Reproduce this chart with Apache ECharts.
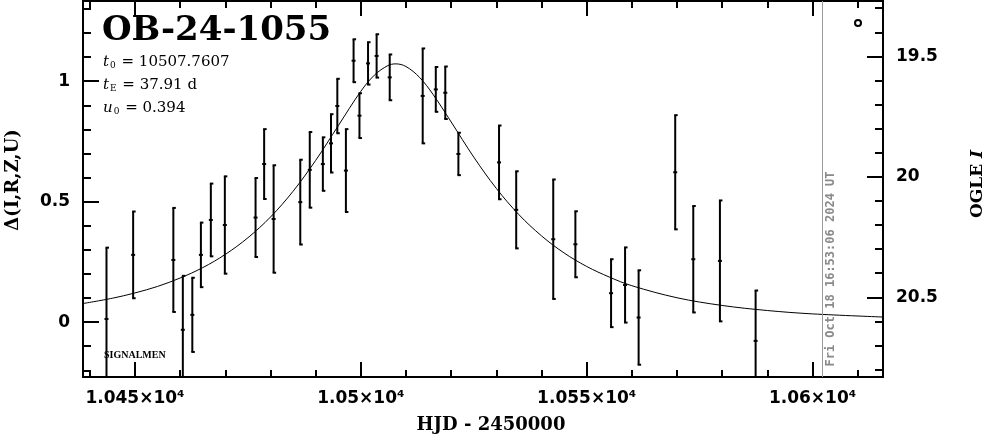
<!DOCTYPE html>
<html><head><meta charset="utf-8">
<script src="https://cdn.jsdelivr.net/npm/echarts@6/dist/echarts.min.js"></script>
<style>html,body{margin:0;padding:0;background:#fff}#c{width:986px;height:434px}</style>
</head><body><div id="c"></div>
<script>
// ---- data ----
const hjd = [10443.7, 10449.6, 10458.5, 10460.6, 10462.7, 10464.6, 10466.8, 10469.9, 10476.7, 10478.6, 10480.7, 10486.6, 10488.7, 10491.6, 10493.4, 10494.8, 10496.7, 10498.4, 10499.7, 10501.6, 10503.5, 10506.4, 10513.7, 10516.6, 10518.7, 10521.6, 10530.6, 10534.4, 10542.6, 10547.5, 10555.4, 10558.5, 10561.5, 10569.6, 10573.6, 10579.5, 10587.4];
const delta = [0.013, 0.279, 0.258, -0.032, 0.030, 0.279, 0.424, 0.403, 0.434, 0.656, 0.428, 0.498, 0.632, 0.656, 0.742, 0.897, 0.629, 1.085, 0.857, 1.074, 1.105, 1.016, 0.939, 0.966, 0.952, 0.698, 0.663, 0.466, 0.344, 0.323, 0.120, 0.154, 0.019, 0.622, 0.261, 0.254, -0.078];
const errs = [0.296, 0.180, 0.216, 0.224, 0.154, 0.134, 0.151, 0.202, 0.164, 0.145, 0.223, 0.176, 0.157, 0.111, 0.121, 0.113, 0.172, 0.089, 0.093, 0.088, 0.090, 0.095, 0.197, 0.093, 0.109, 0.088, 0.153, 0.160, 0.248, 0.137, 0.141, 0.156, 0.196, 0.237, 0.221, 0.251, 0.209];
const modelT = [10438.5, 10445, 10450, 10455, 10460, 10465, 10470, 10475, 10480, 10485, 10490, 10495, 10500, 10503, 10506, 10507.76, 10510, 10513, 10516, 10520, 10525, 10530, 10535, 10540, 10545, 10550, 10555, 10560, 10570, 10580, 10590, 10600, 10615.6];
const modelDelta = [0.077, 0.099, 0.121, 0.148, 0.183, 0.226, 0.281, 0.350, 0.436, 0.543, 0.671, 0.815, 0.958, 1.025, 1.065, 1.072, 1.061, 1.016, 0.945, 0.831, 0.685, 0.555, 0.446, 0.358, 0.287, 0.231, 0.187, 0.151, 0.101, 0.069, 0.048, 0.034, 0.021];
const nowHJD = 10602.2;
const xMajorTicks = [10450, 10500, 10550, 10600];
const xMinorTicks = [10440, 10450, 10460, 10470, 10480, 10490, 10500, 10510, 10520, 10530, 10540, 10550, 10560, 10570, 10580, 10590, 10600, 10610];
const yLeftMajor = [0, 0.5, 1];
const yLeftMinor = [-0.2, -0.1, 0, 0.1, 0.2, 0.3, 0.4, 0.5, 0.6, 0.7, 0.8, 0.9, 1.0, 1.1, 1.2, 1.3];
const yRightMajor = [19.5, 20, 20.5];
const yRightMinor = [19.3, 19.4, 19.5, 19.6, 19.7, 19.8, 19.9, 20.0, 20.1, 20.2, 20.3, 20.4, 20.5, 20.6, 20.7, 20.8];
const X_MIN = 10438.5, X_MAX = 10615.6;
const Y_MIN = -0.228, Y_MAX = 1.333;
const I_TOP = 19.27, I_BOTTOM = 20.831;

// ---- chart ----
const chart = echarts.init(document.getElementById('c'));
const black = '#000';
const tickLabel = {fontFamily: 'DejaVu Sans', fontWeight: 'bold', fontSize: 17, color: black};
function xAx(pos, len, vals, labels) {
  return {
    type: 'value', min: X_MIN, max: X_MAX, position: pos,
    axisLine: {show: true, onZero: false, lineStyle: {color: black, width: 2}},
    axisTick: {show: true, inside: true, length: len, customValues: vals, lineStyle: {color: black, width: 2}},
    axisLabel: labels ? Object.assign({customValues: xMajorTicks, margin: 13,
      formatter: v => parseFloat((v / 1e4).toFixed(4)) + '×10⁴'}, tickLabel) : {show: false},
    splitLine: {show: false}
  };
}
function yAx(pos, min, max, inv, len, vals, labels, labVals) {
  return {
    type: 'value', min: min, max: max, position: pos, inverse: inv,
    axisLine: {show: true, onZero: false, lineStyle: {color: black, width: 2}},
    axisTick: {show: true, inside: true, length: len, customValues: vals, lineStyle: {color: black, width: 2}},
    axisLabel: labels ? Object.assign({customValues: labVals, margin: 13, formatter: v => String(parseFloat(v.toFixed(2)))}, tickLabel) : {show: false},
    splitLine: {show: false}
  };
}

const option = {
  animation: false,
  backgroundColor: '#fff',
  grid: {left: 83, right: 103, top: 1, bottom: 57, containLabel: false},
  xAxis: [
    xAx('bottom', 7, xMinorTicks, true),
    xAx('bottom', 15, xMajorTicks, false),
    xAx('top', 7, xMinorTicks, false),
    xAx('top', 15, xMajorTicks, false)
  ],
  yAxis: [
    yAx('left', Y_MIN, Y_MAX, false, 8, yLeftMinor, true, yLeftMajor),
    yAx('left', Y_MIN, Y_MAX, false, 16, yLeftMajor, false),
    yAx('right', I_TOP, I_BOTTOM, true, 8, yRightMinor, true, yRightMajor),
    yAx('right', I_TOP, I_BOTTOM, true, 16, yRightMajor, false)
  ],
  series: [
    {
      type: 'line', xAxisIndex: 0, yAxisIndex: 0,
      data: modelT.map((t, i) => [t, modelDelta[i]]),
      smooth: 0.35, symbol: 'none', silent: true,
      lineStyle: {color: black, width: 1}, z: 2,
      markLine: {
        silent: true, symbol: 'none', label: {show: false},
        lineStyle: {color: '#9a9a9a', width: 1, type: 'solid'},
        data: [{xAxis: nowHJD}]
      }
    },
    {
      type: 'custom', xAxisIndex: 0, yAxisIndex: 0, silent: true, z: 3,
      data: hjd.map((t, i) => [t, delta[i], delta[i] - errs[i], delta[i] + errs[i]]),
      renderItem: function (params, api) {
        const x = api.value(0);
        const c = api.coord([x, api.value(1)]);
        const lo = api.coord([x, api.value(2)]);
        const hi = api.coord([x, api.value(3)]);
        const cs = params.coordSys;
        const yTop = Math.max(hi[1], cs.y);
        const yBot = Math.min(lo[1], cs.y + cs.height);
        const st = {stroke: black, lineWidth: 2};
        const ch = [{type: 'line', shape: {x1: c[0], y1: yTop, x2: c[0], y2: yBot}, style: st}];
        if (hi[1] >= cs.y) ch.push({type: 'line', shape: {x1: c[0] - 1, y1: hi[1], x2: c[0] + 2.5, y2: hi[1]}, style: st});
        if (lo[1] <= cs.y + cs.height) ch.push({type: 'line', shape: {x1: c[0] - 1, y1: lo[1], x2: c[0] + 2.5, y2: lo[1]}, style: st});
        ch.push({type: 'rect', shape: {x: c[0] - 2, y: c[1] - 1, width: 4, height: 2}, style: {fill: black}});
        return {type: 'group', children: ch};
      }
    }
  ],
  graphic: [
    {type: 'text', x: 102, y: 31, style: {text: 'OB-24-1055', font: 'bold 34px "DejaVu Serif"', fill: black, align: 'left', verticalAlign: 'middle'}},
    {type: 'text', x: 103, y: 62, style: {text: '{i|t}{s|0} = 10507.7607', font: '15px "DejaVu Serif"', fill: black, align: 'left', verticalAlign: 'middle',
      rich: {i: {fontStyle: 'italic', font: 'italic 15px "DejaVu Serif"'}, s: {font: '9px "DejaVu Serif"', padding: [8, 1, 0, 1]}}}},
    {type: 'text', x: 103, y: 85, style: {text: '{i|t}{s|E} = 37.91 d', font: '15px "DejaVu Serif"', fill: black, align: 'left', verticalAlign: 'middle',
      rich: {i: {font: 'italic 15px "DejaVu Serif"'}, s: {font: '9px "DejaVu Serif"', padding: [8, 1, 0, 1]}}}},
    {type: 'text', x: 103, y: 108, style: {text: '{i|u}{s|0} = 0.394', font: '15px "DejaVu Serif"', fill: black, align: 'left', verticalAlign: 'middle',
      rich: {i: {font: 'italic 15px "DejaVu Serif"'}, s: {font: '9px "DejaVu Serif"', padding: [8, 1, 0, 1]}}}},
    {type: 'text', x: 104, y: 355, style: {text: 'SIGNALMEN', font: 'bold 10px "Liberation Serif"', fill: black, align: 'left', verticalAlign: 'middle'}},
    {type: 'text', x: 491, y: 425, style: {text: 'HJD - 2450000', font: 'bold 18px "DejaVu Serif"', fill: black, align: 'center', verticalAlign: 'middle'}},
    {type: 'text', x: 13, y: 180, rotation: Math.PI / 2, style: {text: 'Δ(I,R,Z,U)', font: 'bold 18px "DejaVu Serif"', fill: black, align: 'center', verticalAlign: 'middle'}},
    {type: 'text', x: 978, y: 184, rotation: Math.PI / 2, style: {text: 'OGLE {i|I}', font: 'bold 17px "DejaVu Serif"', fill: black, align: 'center', verticalAlign: 'middle',
      rich: {i: {font: 'bold italic 17px "DejaVu Serif"'}}}},
    {type: 'text', x: 831, y: 269, rotation: Math.PI / 2, style: {text: 'Fri Oct 18 16:53:06 2024 UT', font: 'bold 12px "DejaVu Sans Mono"', fill: '#8a8a8a', align: 'center', verticalAlign: 'middle'}},
    {type: 'circle', shape: {cx: 858, cy: 23, r: 3}, style: {fill: 'none', stroke: black, lineWidth: 2}}
  ]
};
chart.setOption(option);
</script>
</body></html>
